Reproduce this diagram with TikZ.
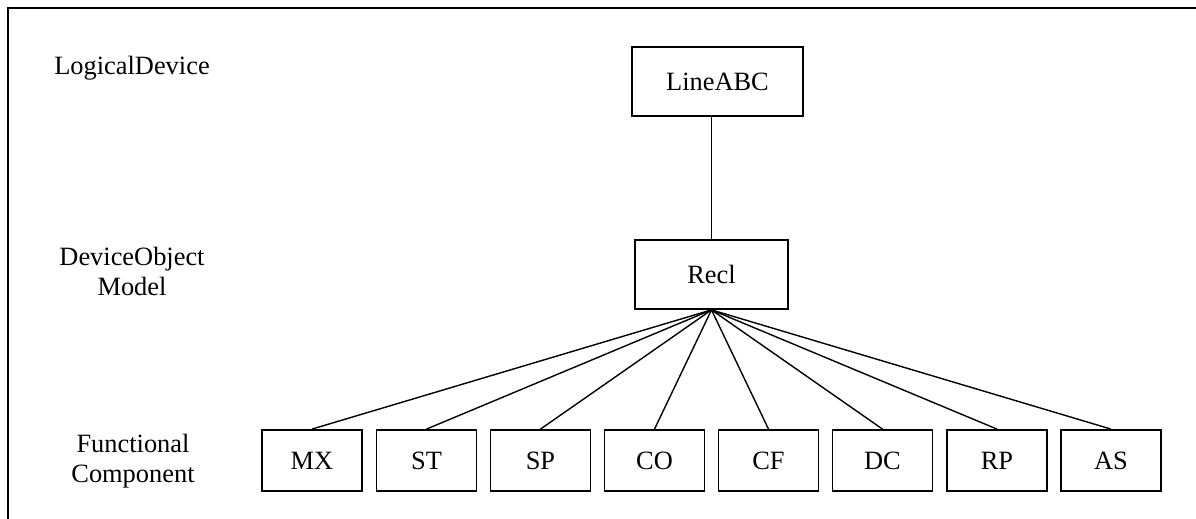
\documentclass[tikz,border=0pt]{standalone}
\usepackage{fontspec}
\setmainfont{Liberation Serif}
\begin{document}
\begin{tikzpicture}[x=0.5pt,y=-0.5pt,
  box/.style={draw,line width=0.9pt,inner sep=0pt,font=\fontsize{13.2}{15}\selectfont},
  fc/.style={box,minimum width=50pt,minimum height=30.5pt},
  lbl/.style={align=center,font=\fontsize{13.2}{15}\selectfont,inner sep=0pt},
  conn/.style={line width=0.7pt},
  frame/.style={line width=1.1pt}]
\useasboundingbox (0,0) rectangle (1196,519);
\coordinate (tl) at (8,8);
\coordinate (tr) at (1196,8);
\coordinate (bl) at (8,519);
\draw[frame] (tr) -- (tl) -- (bl);

\node[lbl] (lLD) at (132,68) {LogicalDevice};
\node[lbl] (lDOM) at (132,271) {DeviceObject\\Model};
\node[lbl] (lFC) at (133,461) {Functional\\Component};

\node[box,minimum width=85.5pt,minimum height=34.5pt] (line) at (717.5,81.5) {LineABC};
\node[box,minimum width=76.5pt,minimum height=34.5pt] (recl) at (711.5,274.5) {Recl};
\draw[conn] (recl.north) -- (recl.north |- line.south);

\node[fc] (MX) at (312,460.5) {MX};
\node[fc] (ST) at (426.5,460.5) {ST};
\node[fc] (SP) at (540.5,460.5) {SP};
\node[fc] (CO) at (654.5,460.5) {CO};
\node[fc] (CF) at (768.5,460.5) {CF};
\node[fc] (DC) at (882.5,460.5) {DC};
\node[fc] (RP) at (997,460.5) {RP};
\node[fc] (AS) at (1111,460.5) {AS};
\foreach \n in {MX,ST,SP,CO,CF,DC,RP,AS}
  \draw[conn] (recl.south) -- (\n.north);
\end{tikzpicture}
\end{document}
